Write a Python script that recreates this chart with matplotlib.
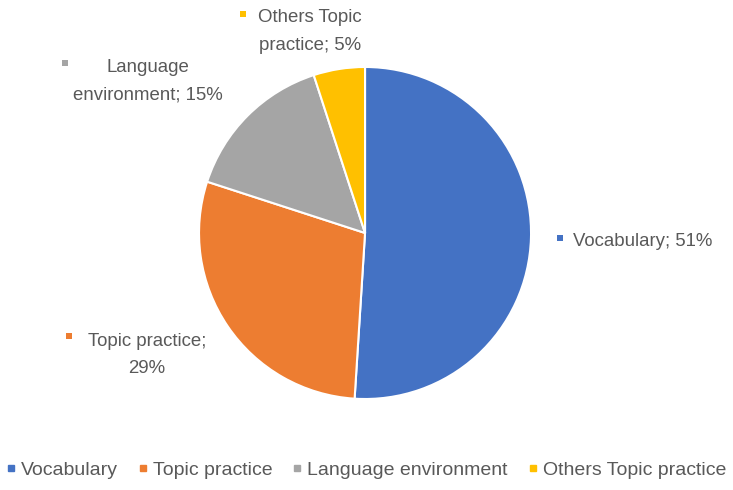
import matplotlib.pyplot as plt
from matplotlib.lines import Line2D
from matplotlib.patches import Rectangle

# data
categories = ["Vocabulary", "Topic practice", "Language environment", "Others Topic practice"]
shares = [51, 29, 15, 5]
colors = ["#4472C4", "#ED7D31", "#A5A5A5", "#FFC000"]
label_lines = [
    ["Vocabulary; 51%"],
    ["Topic practice;", "29%"],
    ["Language", "environment; 15%"],
    ["Others Topic", "practice; 5%"],
]

plt.rcParams['font.family'] = ['Liberation Sans', 'DejaVu Sans']
text_color = "#595959"

fig = plt.figure(figsize=(7.33, 4.9), dpi=100)
ax = fig.add_axes([0.2715, 0.1857, 0.453, 0.6776])
ax.pie(shares, colors=colors, startangle=90, counterclock=False,
       wedgeprops=dict(edgecolor="white", linewidth=1.5))
ax.set_xlim(-1.0, 1.0)
ax.set_ylim(-1.0, 1.0)
ax.set_aspect("equal")

W, H = 733.0, 490.0

def px(x, y):
    return x / W, 1 - y / H

# data label layout: (text x, first line y, square x, square y, align)
label_pos = [
    (573, 241, 560, 238, "left"),
    (147, 341, 69, 336, "center"),
    (148, 68, 65, 63, "center"),
    (310, 18, 243, 14, "center"),
]
for lines, col, (tx, ty, sx, sy, al) in zip(label_lines, colors, label_pos):
    for i, ln in enumerate(lines):
        fx, fy = px(tx, ty + i * 27)
        fig.text(fx, fy, ln, ha=al, va="center", fontsize=13.4, color=text_color)
    rx, ry = px(sx - 3, sy + 3)
    fig.add_artist(Rectangle((rx, ry), 6 / W, 6 / H, transform=fig.transFigure,
                             facecolor=col, edgecolor="none"))

handles = [Line2D([], [], marker="s", linestyle="none", markersize=4.5,
                  markerfacecolor=c, markeredgecolor=c) for c in colors]
fig.legend(handles, categories, loc="center", bbox_to_anchor=(0.5, 1 - 470 / H),
           ncol=4, frameon=False, fontsize=14, labelcolor=text_color,
           handlelength=0.4, handletextpad=0.3, columnspacing=1.1)

fig.savefig("out.png", dpi=100)
